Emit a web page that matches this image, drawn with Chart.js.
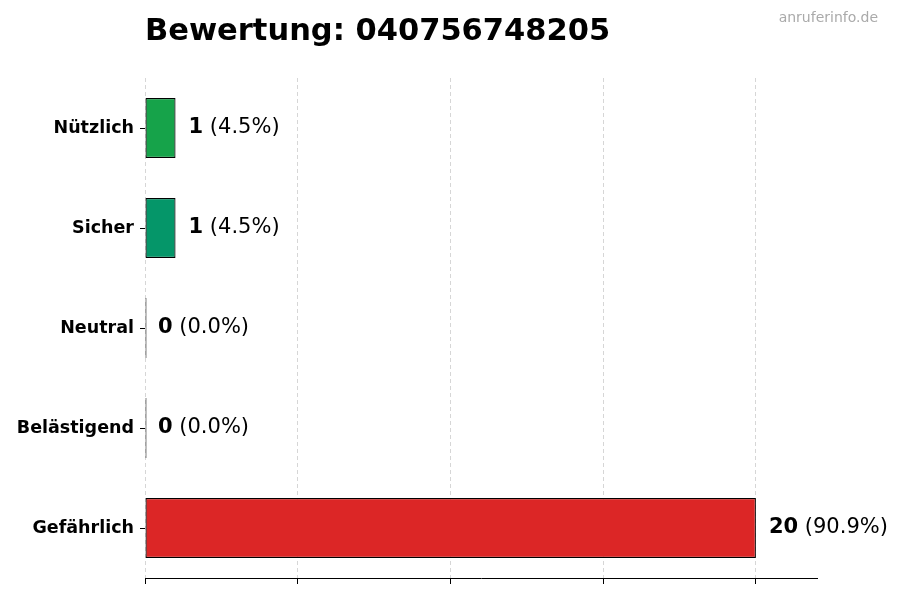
<!DOCTYPE html>
<html lang="de">
<head>
<meta charset="utf-8">
<title>Bewertung: 040756748205</title>
<script src="https://cdn.jsdelivr.net/npm/chart.js@4/dist/chart.umd.min.js"></script>
<style>
    html, body { margin: 0; padding: 0; background: #ffffff; }
    #wrap { width: 900px; height: 600px; position: relative; }
</style>
</head>
<body>
<div id="wrap"><canvas id="chart" width="900" height="600"></canvas></div>
<script>
// Daten
const categories = ['Nützlich', 'Sicher', 'Neutral', 'Belästigend', 'Gefährlich'];
const counts = [1, 1, 0, 0, 20];
const barColors = ['#16a34a', '#059669', '#6b7280', '#ea580c', '#dc2626'];
const xTicks = [0, 5, 10, 15, 20];

const TITLE = 'Bewertung: 040756748205';
const WATERMARK = 'anruferinfo.de';
const FONT = "'DejaVu Sans', sans-serif";

const total = counts.reduce((a, b) => a + b, 0);

// Titel + Wasserzeichen
const headerPlugin = {
    id: 'header',
    afterDraw(chart) {
        const ctx = chart.ctx;
        ctx.save();
        ctx.textBaseline = 'alphabetic';
        ctx.fillStyle = '#000000';
        ctx.font = `bold 30.5px ${FONT}`;
        ctx.textAlign = 'left';
        ctx.fillText(TITLE, chart.chartArea.left, 40);

        ctx.fillStyle = '#aaaaaa';
        ctx.font = `14px ${FONT}`;
        ctx.textAlign = 'right';
        ctx.fillText(WATERMARK, 878, 22);
        ctx.restore();
    }
};

// Werte neben den Balken: "20 (90.9%)"
const valueLabels = {
    id: 'valueLabels',
    afterDraw(chart) {
        const ctx = chart.ctx;
        const meta = chart.getDatasetMeta(0);
        const xScale = chart.scales.x;
        ctx.save();
        ctx.textBaseline = 'middle';
        ctx.textAlign = 'left';
        ctx.fillStyle = '#000000';
        meta.data.forEach((bar, i) => {
            const v = counts[i];
            const pct = total ? (v / total * 100).toFixed(1) : '0.0';
            let x = xScale.getPixelForValue(v) + 13;
            const y = bar.y;
            ctx.font = `bold 21px ${FONT}`;
            const num = String(v);
            ctx.fillText(num, x, y);
            x += ctx.measureText(num).width;
            ctx.font = `21px ${FONT}`;
            ctx.fillText(` (${pct}%)`, x, y);
        });
        ctx.restore();
    }
};

new Chart(document.getElementById('chart'), {
    type: 'bar',
    data: {
        labels: categories,
        datasets: [{
            data: counts,
            backgroundColor: barColors,
            borderColor: '#000000',
            borderWidth: 1.2,
            borderSkipped: false,
            minBarLength: 1.5,
            barPercentage: 0.6,
            categoryPercentage: 1.0
        }]
    },
    options: {
        indexAxis: 'y',
        responsive: false,
        animation: false,
        devicePixelRatio: 1,
        layout: { padding: { top: 78, right: 83, bottom: 0, left: 0 } },
        plugins: {
            legend: { display: false },
            title: { display: false },
            tooltip: { enabled: false }
        },
        scales: {
            x: {
                type: 'linear',
                min: 0,
                max: 22,
                z: 1,
                afterBuildTicks(scale) {
                    scale.ticks = xTicks.map(v => ({ value: v }));
                },
                afterFit(scale) { scale.height = 22; },
                ticks: { display: false },
                grid: {
                    color: 'rgba(0,0,0,0.16)',
                    lineWidth: 1,
                    tickColor: '#000000',
                    tickLength: 6,
                    drawTicks: true
                },
                border: { display: true, color: '#000000', width: 1, dash: [4, 3] }
            },
            y: {
                afterFit(scale) { scale.width = 145; },
                ticks: {
                    color: '#000000',
                    padding: 6,
                    font: { family: FONT, size: 17.5, weight: 'bold' }
                },
                grid: {
                    offset: false,
                    drawOnChartArea: false,
                    drawTicks: true,
                    tickLength: 5,
                    tickColor: '#000000'
                },
                border: { display: false }
            }
        }
    },
    plugins: [headerPlugin, valueLabels]
});
</script>
</body>
</html>
